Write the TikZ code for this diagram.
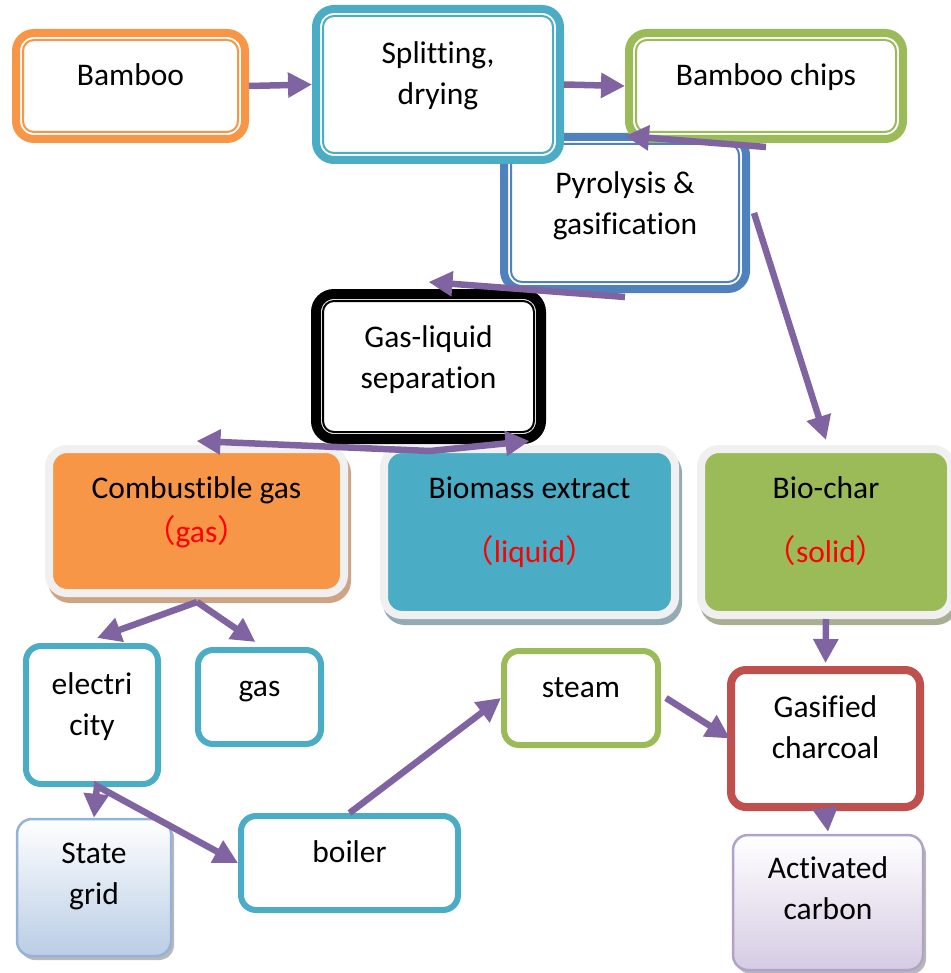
\documentclass[tikz,border=0pt]{standalone}
\usepackage{fontspec}
\setmainfont[Ligatures=NoCommon]{Carlito}
\newfontfamily\cjkf{Noto Sans CJK SC}
\usetikzlibrary{arrows.meta,shadows}
\definecolor{cOr}{HTML}{F79646}
\definecolor{cTe}{HTML}{4BACC6}
\definecolor{cGr}{HTML}{9BBB59}
\definecolor{cBl}{HTML}{4F81BD}
\definecolor{cRe}{HTML}{C0504D}
\definecolor{cPu}{HTML}{8064A2}
\definecolor{cLb}{HTML}{95B3D7}
\definecolor{cLbf}{HTML}{B9CDE5}
\definecolor{cLp}{HTML}{B3A2C7}
\definecolor{cLpf}{HTML}{D5CBE3}
\definecolor{cBd}{HTML}{F0F0F0}
\definecolor{sOr}{HTML}{CFA486}
\definecolor{sTe}{HTML}{93AAB4}
\definecolor{sGr}{HTML}{A9AF93}
\newcommand\bt[4]{\parbox[c][#2pt][t]{#1pt}{\centering\vspace*{#3pt}\strut #4\par}}
\newcommand\rd[1]{\textcolor{red}{{\cjkf （}#1{\cjkf ）}}}
\tikzset{
  every node/.style={font=\fontsize{31.5}{41.5}\selectfont, inner sep=0pt, text=black},
  dbl/.style={draw=#1, line width=8pt, fill=white, rounded corners=18pt,
    path picture={\draw[draw=#1, line width=2pt, rounded corners=11pt]
      ([shift={(7pt,7pt)}]path picture bounding box.south west) rectangle
      ([shift={(-7pt,-7pt)}]path picture bounding box.north east);}},
  linebox/.style={draw=#1, line width=6pt, fill=white, rounded corners=15pt},
  filledbox/.style 2 args={fill=#1, draw=cBd, line width=8pt, rounded corners=18pt,
    drop shadow={shadow xshift=3pt, shadow yshift=-6pt, fill=#2, draw=#2, line width=8pt, opacity=1}},
  gradbox/.style 2 args={draw=#1, line width=2.5pt, top color=white, bottom color=#2, rounded corners=15pt,
    drop shadow={shadow xshift=3pt, shadow yshift=-4pt, fill=black!35, opacity=0.8}},
  arr/.style={draw=cPu, line width=6.5pt, -{Triangle[length=24pt,width=24pt]}},
  darr/.style={draw=cPu, line width=6.5pt, {Triangle[length=24pt,width=24pt]}-{Triangle[length=24pt,width=24pt]}},
}
\begin{document}
\begin{tikzpicture}[x=1pt,y=-1pt]
\useasboundingbox (0,0) rectangle (950,973);
% top boxes
\node[dbl=cBl] (pyro) at (625,213) {\bt{242}{152}{27}{Pyrolysis \&\\gasification}};
\node[dbl=cOr] (bamboo) at (130.5,86) {\bt{229}{106}{23}{Bamboo}};
\node[dbl=cTe] (split) at (438,84.5) {\bt{244}{151}{25}{Splitting,\\drying}};
\node[dbl=cGr] (chips) at (766,86) {\bt{274}{106}{23}{Bamboo chips}};
\node[dbl=black, line width=10pt] (gasliq) at (428.5,366.5) {\bt{225}{145}{24}{Gas-liquid\\separation}};
% filled boxes
\node[filledbox={cOr}{sOr}] (comb) at (196.5,521) {\bt{295}{144}{20}{Combustible gas\\[2.5pt]\rd{gas}}};
\node[filledbox={cTe}{sTe}] (bio) at (529.5,532) {\bt{291}{166}{20}{Biomass extract\\[22.5pt]\rd{liquid}}};
\node[filledbox={cGr}{sGr}] (char) at (826,532) {\bt{250}{166}{20}{Bio-char\\[22.5pt]\rd{solid}}};
% lower boxes
\node[linebox=cTe] (elec) at (92,715) {\bt{132}{138}{19}{electri\\city}};
\node[linebox=cTe] (gasb) at (259.5,697) {\bt{123}{94}{17}{gas}};
\node[linebox=cGr] (steam) at (581,698) {\bt{154}{94}{17}{steam}};
\node[linebox=cRe, line width=8pt] (gasc) at (825.5,738.5) {\bt{189}{137}{18}{Gasified\\charcoal}};
\node[gradbox={cLb}{cLbf}] (grid) at (94,887.5) {\bt{154}{137}{15}{State\\grid}};
\node[linebox=cTe] (boiler) at (349.5,863) {\bt{217}{94}{17}{boiler}};
\node[gradbox={cLp}{cLpf}] (act) at (828,902.5) {\bt{190}{135}{14}{Activated\\carbon}};
% connectors
\draw[arr] (bamboo.east) -- (split.west);
\draw[arr] (split.east) -- (chips.west);
\draw[arr] ([yshift=-4pt]chips.south) -- ([yshift=7pt]chips.south west);
\draw[arr] ([yshift=-4pt]pyro.south) -- ([yshift=7pt]gasliq.north);
\draw[arr] ([xshift=4pt]pyro.east) -- ([yshift=5pt]char.north);
\coordinate (gm) at (430,451);
\draw[darr] ([yshift=4pt]comb.north) -- (gm) -- ([yshift=4pt]bio.north);
\coordinate (cs) at (197,602);
\draw[arr] (cs) -- ([shift={(5pt,5pt)}]elec.north);
\draw[arr] (cs) -- ([shift={(-4pt,5pt)}]gasb.north);
\draw[arr] (char.south) -- ([yshift=3pt]gasc.north);
\draw[arr] (gasc.south) -- ([yshift=2pt]act.north);
\draw[arr] ([xshift=5pt]steam.east) -- ([xshift=3pt]gasc.west);
\draw[arr] (boiler.north) -- (steam.west);
\coordinate (ek) at (97,786);
\draw[darr] (grid.north) -- (ek) -- (boiler.west);
\end{tikzpicture}
\end{document}
